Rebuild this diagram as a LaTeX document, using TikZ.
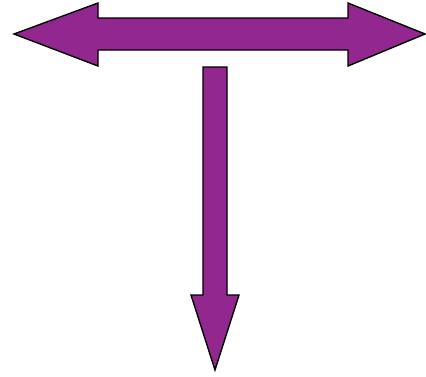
\documentclass[tikz,border=0pt]{standalone}
\usepackage{tikz}
\usepackage{xcolor}

\definecolor{arrowpurple}{RGB}{146,39,143}

\begin{document}
\begin{tikzpicture}[x=1pt,y=-1pt,line join=miter]
  \tikzset{blockarrow/.style={fill=arrowpurple,draw=black,line width=1.4pt}}
  \useasboundingbox (0,0) rectangle (426,376);

  % double headed arrow (left-right)
  \draw[blockarrow] (14,34) -- (98,3) -- (98,18) -- (348,18) -- (348,3)
    -- (425,34) -- (348,66) -- (348,50) -- (98,50) -- (98,66) -- cycle;

  % arrow pointing down
  \draw[blockarrow] (203,67) -- (227,67) -- (227,295) -- (239,295)
    -- (215,370) -- (191,295) -- (203,295) -- cycle;
\end{tikzpicture}
\end{document}
